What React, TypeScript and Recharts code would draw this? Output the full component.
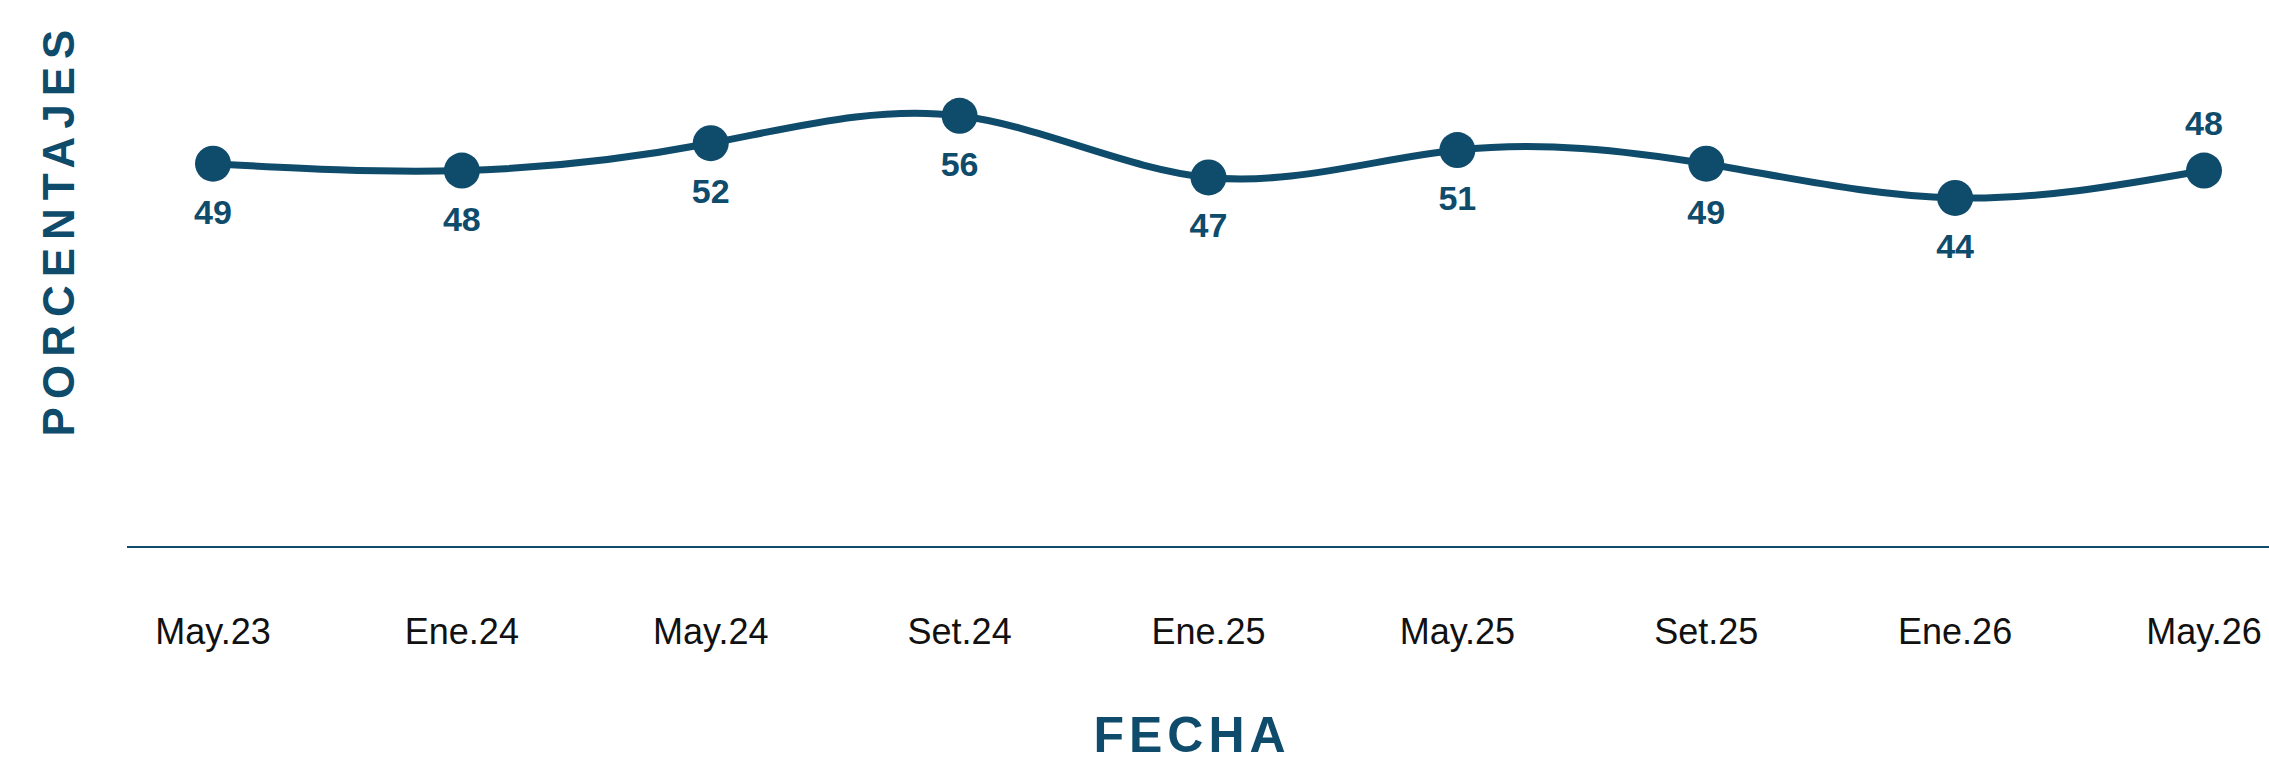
import React from 'react';
import { LineChart, Line, XAxis, YAxis, LabelList } from 'recharts';

const fechas = ['May.23', 'Ene.24', 'May.24', 'Set.24', 'Ene.25', 'May.25', 'Set.25', 'Ene.26', 'May.26'];
const porcentajes = [49, 48, 52, 56, 47, 51, 49, 44, 48];

const data = fechas.map((fecha, i) => ({ fecha, valor: porcentajes[i] }));

const AZUL = '#0f4b6b';

const Tick = (props: any) => {
  const { x, y, payload } = props;
  return (
    <text x={x} y={y + 84} textAnchor="middle" dominantBaseline="central" fill="#111" fontSize={36} fontFamily="Liberation Sans, Arial, sans-serif">
      {payload.value}
    </text>
  );
};

const Etiqueta = (props: any) => {
  const { x, y, value, index } = props;
  const arriba = index === fechas.length - 1;
  return (
    <text x={x} y={arriba ? y - 48 : y + 48} textAnchor="middle" dominantBaseline="central" fill={AZUL} fontSize={34} fontWeight="bold" fontFamily="Liberation Sans, Arial, sans-serif">
      {value}
    </text>
  );
};

export default function App() {
  return (
    <div>
      <style>{`body{margin:0}`}</style>
      <LineChart width={2269} height={766} data={data} margin={{ top: 20, right: 0, left: 127, bottom: 0 }}>
        <XAxis
          dataKey="fecha"
          height={219}
          padding={{ left: 86, right: 65 }}
          tickLine={false}
          tickSize={0}
          tickMargin={0}
          axisLine={{ stroke: AZUL, strokeWidth: 2 }}
          tick={<Tick />}
          interval={0}
        />
        <YAxis hide domain={[-7, 70]} />
        <Line
          type="natural"
          dataKey="valor"
          stroke={AZUL}
          strokeWidth={7}
          dot={{ r: 18, fill: AZUL, stroke: 'none' }}
          activeDot={false}
          isAnimationActive={false}
        >
          <LabelList dataKey="valor" content={<Etiqueta />} />
        </Line>
        <text x={1192} y={735} textAnchor="middle" dominantBaseline="central" fill={AZUL} fontSize={50} fontWeight="bold" letterSpacing={5} fontFamily="Liberation Sans, Arial, sans-serif">
          FECHA
        </text>
        <text x={58} y={229} transform="rotate(-90 58 229)" textAnchor="middle" dominantBaseline="central" fill={AZUL} fontSize={44} fontWeight="bold" letterSpacing={8} fontFamily="Liberation Sans, Arial, sans-serif">
          PORCENTAJES
        </text>
      </LineChart>
    </div>
  );
}
